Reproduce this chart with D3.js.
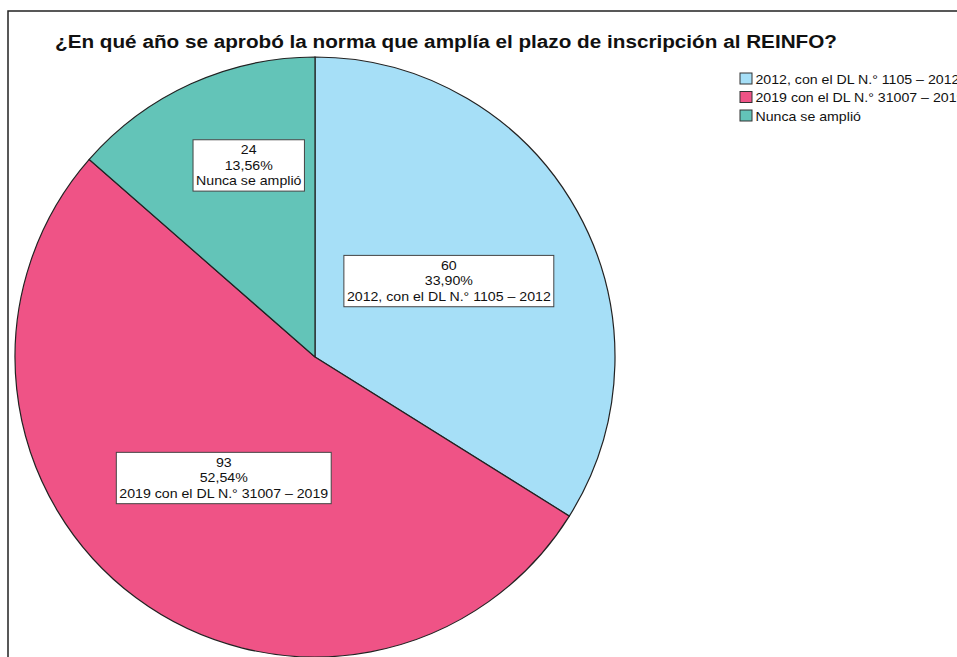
<!DOCTYPE html>
<html>
<head>
<meta charset="utf-8">
<script src="https://cdn.jsdelivr.net/npm/d3@7"></script>
<style>
  body { margin: 0; background: #fff; }
  svg { display: block; font-family: "Liberation Sans", Arial, sans-serif; }
</style>
</head>
<body>
<div id="chart"></div>
<script>
// data
var categories = ["2012, con el DL N.° 1105 – 2012", "2019 con el DL N.° 31007 – 2019", "Nunca se amplió"];
var counts = [60, 93, 24];
var percents = ["33,90%", "52,54%", "13,56%"];
var colors = ["#a6dff7", "#ef5386", "#63c4b8"];
var title = "¿En qué año se aprobó la norma que amplía el plazo de inscripción al REINFO?";

var width = 957, height = 657;
var cx = 315, cy = 357, radius = 300;
var stretch = 1.09; // the source text is a little wider than Arial

var svg = d3.select("#chart").append("svg")
    .attr("width", width)
    .attr("height", height);

// outer frame (runs off the right and bottom edges)
svg.append("rect")
    .attr("x", 8).attr("y", 11)
    .attr("width", 1000).attr("height", 700)
    .attr("fill", "none")
    .attr("stroke", "#222")
    .attr("stroke-width", 1.5);

svg.append("g")
    .attr("transform", "translate(55,48) scale(" + stretch + ",1)")
  .append("text")
    .attr("font-size", 19)
    .attr("font-weight", "bold")
    .attr("fill", "#111")
    .text(title);

var data = categories.map(function(c, i) {
  return {label: c, value: counts[i], pct: percents[i], color: colors[i]};
});

var pie = d3.pie().sort(null).value(function(d) { return d.value; });
var arc = d3.arc().innerRadius(0).outerRadius(radius);
var arcs = pie(data);
var total = d3.sum(counts);

var g = svg.append("g").attr("transform", "translate(" + cx + "," + cy + ")");

g.selectAll("path.slice")
    .data(arcs)
  .enter().append("path")
    .attr("class", "slice")
    .attr("d", arc)
    .attr("fill", function(d) { return d.data.color; })
    .attr("stroke", "#222")
    .attr("stroke-width", 1.2);

// labels: small slices sit further out
var labels = g.selectAll("g.lbl")
    .data(arcs)
  .enter().append("g")
    .attr("class", "lbl")
    .attr("transform", function(d) {
      var share = d.data.value / total;
      var r = share < 0.2 ? radius * 0.67 : radius * 0.51;
      var a = (d.startAngle + d.endAngle) / 2;
      if (share < 0.2) a += 0.09;
      return "translate(" + (Math.sin(a) * r) + "," + (-Math.cos(a) * r - 3) + ")";
    });

labels.each(function(d) {
  var sel = d3.select(this);
  var lines = [String(d.data.value), d.data.pct, d.data.label];
  var box = sel.append("rect");
  var t = sel.append("text")
      .attr("text-anchor", "middle")
      .attr("font-size", 13)
      .attr("fill", "#111")
      .attr("transform", "scale(" + stretch + ",1)");
  lines.forEach(function(l, i) {
    t.append("tspan").attr("x", 0).attr("y", -10 + i * 15.5).text(l);
  });
  var bb = t.node().getBBox();
  var w = bb.width * stretch;
  box.attr("x", -w / 2 - 3).attr("y", bb.y - 3)
     .attr("width", w + 6).attr("height", bb.height + 6)
     .attr("fill", "#fff")
     .attr("stroke", "#444")
     .attr("stroke-width", 1);
});

// legend
var legend = svg.append("g").attr("transform", "translate(740,73)");
var items = legend.selectAll("g")
    .data(data)
  .enter().append("g")
    .attr("transform", function(d, i) { return "translate(0," + (i * 18.5) + ")"; });
items.append("rect")
    .attr("width", 12).attr("height", 11)
    .attr("fill", function(d) { return d.color; })
    .attr("stroke", "#333")
    .attr("stroke-width", 1);
items.append("text")
    .attr("transform", "translate(15.5,10.5) scale(" + stretch + ",1)")
    .attr("font-size", 13)
    .attr("fill", "#111")
    .text(function(d) { return d.label; });
</script>
</body>
</html>
